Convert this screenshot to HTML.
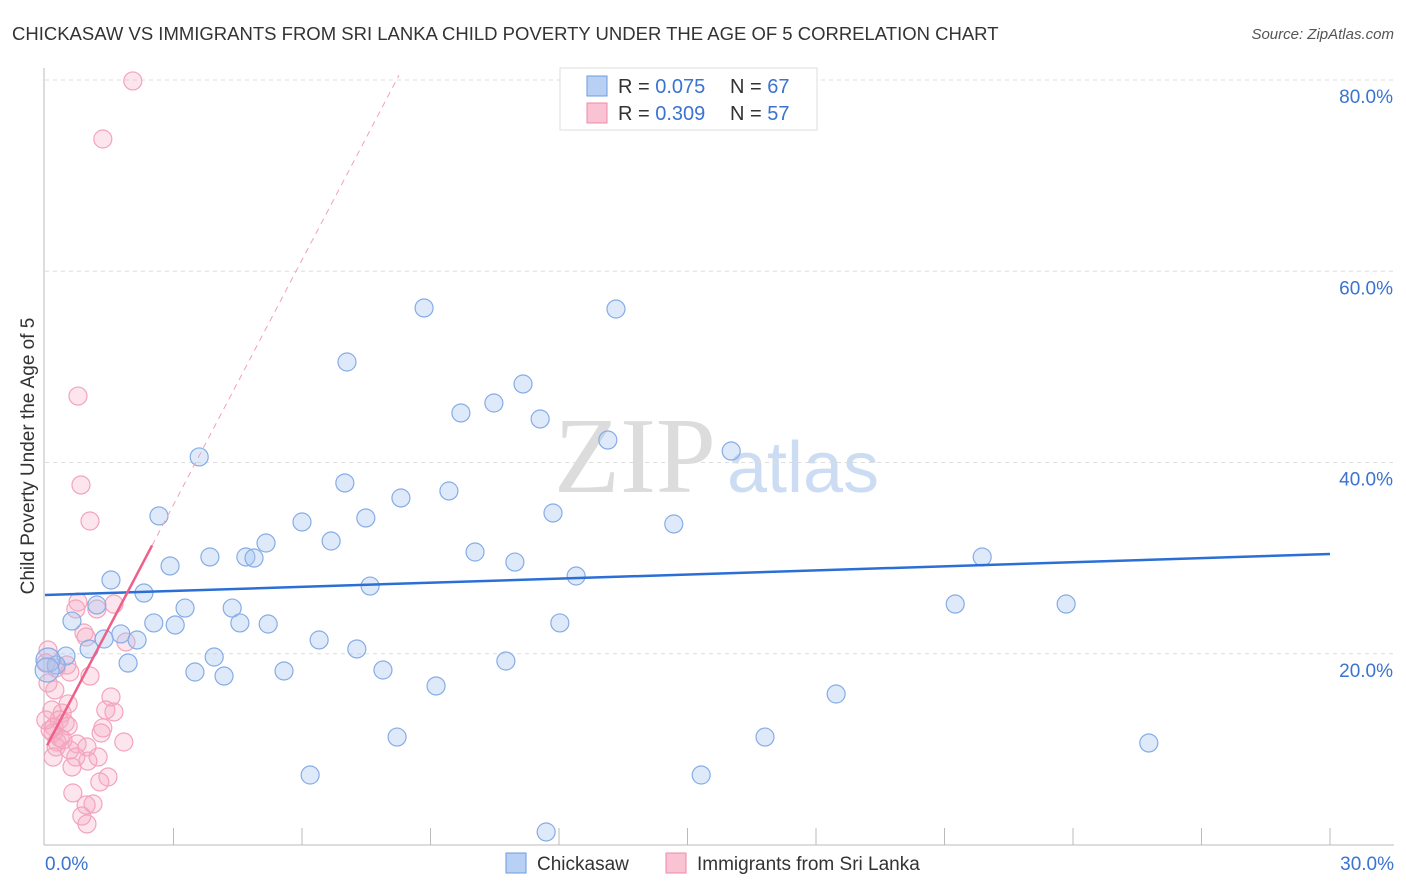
<!DOCTYPE html>
<html><head><meta charset="utf-8"><style>
body{margin:0;background:#fff;font-family:"Liberation Sans",sans-serif;}
svg{display:block}
</style></head><body>
<svg id="chart" width="1406" height="892" xmlns="http://www.w3.org/2000/svg">
<text x="12" y="40" font-size="18.5" fill="#333">CHICKASAW VS IMMIGRANTS FROM SRI LANKA CHILD POVERTY UNDER THE AGE OF 5 CORRELATION CHART</text>
<text x="1394" y="39" font-size="15" fill="#555" font-style="italic" text-anchor="end">Source: ZipAtlas.com</text>
<text x="635" y="492" font-size="108" fill="#dcdcdc" font-family="Liberation Serif,serif" text-anchor="middle">ZIP</text>
<text x="803" y="492" font-size="72" fill="#ccddf3" text-anchor="middle">atlas</text>
<text transform="translate(34,456) rotate(-90)" font-size="19" fill="#333" text-anchor="middle">Child Poverty Under the Age of 5</text>
<g id="grid"></g><g id="marks"></g>
<g>
<rect x="560" y="68" width="257" height="62" fill="#fff" stroke="#ddd"/>
<rect x="587" y="76" width="20" height="20" fill="#b7d0f3" stroke="#6a9be0"/>
<rect x="587" y="103" width="20" height="20" fill="#f9c3d3" stroke="#f08aa8"/>
<text x="618" y="93" font-size="20" fill="#333">R = <tspan fill="#3a73d0">0.075</tspan></text>
<text x="730" y="93" font-size="20" fill="#333">N = <tspan fill="#3a73d0">67</tspan></text>
<text x="618" y="120" font-size="20" fill="#333">R = <tspan fill="#3a73d0">0.309</tspan></text>
<text x="730" y="120" font-size="20" fill="#333">N = <tspan fill="#3a73d0">57</tspan></text>
</g>
<g>
<rect x="506" y="853" width="20" height="20" fill="#b7d0f3" stroke="#6a9be0"/>
<text x="537" y="870" font-size="19" fill="#333">Chickasaw</text>
<rect x="666" y="853" width="20" height="20" fill="#f9c3d3" stroke="#f08aa8"/>
<text x="697" y="870" font-size="19" fill="#333">Immigrants from Sri Lanka</text>
</g>
</svg>
<script>
const yTicks=[20,40,60,80];
const xTickLabels=["0.0%","30.0%"];
const blueX=[8.85,13.33,7.05,11.16,9.71,10.48,11.56,13.14,16.02,3.60,7.00,9.43,8.31,2.66,6.00,7.49,11.86,14.68,6.68,5.16,3.85,4.69,4.88,10.04,10.97,21.88,2.92,1.54,7.59,12.40,2.31,1.21,3.27,4.37,21.25,23.84,0.63,2.54,3.04,4.55,5.21,12.02,1.77,2.15,1.38,6.40,7.28,1.03,0.49,3.95,0.26,1.94,10.76,3.50,4.18,5.58,7.89,9.13,18.47,8.22,16.81,25.77,6.19,15.32,11.70,0.07,0.05];
const blueY=[56.16,56.05,50.51,48.21,45.18,46.22,44.55,42.35,41.20,40.58,37.86,37.02,36.29,34.41,33.78,34.20,34.72,33.57,31.79,31.58,30.12,30.12,30.01,30.64,29.59,30.12,29.18,27.71,27.08,28.13,26.35,25.10,24.78,24.78,25.20,25.20,23.42,23.22,23.01,23.22,23.11,23.22,22.07,21.44,21.54,21.44,20.50,20.50,19.76,19.66,18.82,19.03,19.24,18.09,17.67,18.20,18.30,16.63,15.79,11.29,11.29,10.67,7.32,7.32,1.36,19.35,18.3];
const pinkX=[2.05,1.35,0.77,0.84,1.05,0.77,1.61,0.72,1.21,0.91,0.96,1.89,0.07,0.51,0.26,0.58,1.05,0.07,0.23,1.54,0.54,0.16,0.40,1.42,1.61,0.33,0.47,0.21,0.54,1.35,1.31,0.19,0.28,1.84,0.75,0.98,0.26,0.58,1.24,0.72,0.19,1.00,0.63,1.47,1.28,0.65,1.12,0.96,0.86,0.98,0.02,0.12,0.35,0.02,0.42];
const pinkY=[79.90,73.83,46.95,37.65,33.88,25.41,25.20,24.68,24.68,22.17,21.75,21.23,20.39,18.82,18.51,18.09,17.67,16.94,16.21,15.48,14.75,14.12,13.80,14.12,13.91,13.07,12.76,12.34,12.44,12.24,11.71,11.71,10.77,10.77,10.56,10.25,10.25,9.93,9.20,9.20,9.20,8.78,8.16,7.11,6.59,5.44,4.29,4.18,3.03,2.20,19.03,12.03,11.19,13.07,10.98];
const blueTrend=[26.14,30.43];
const pinkTrend=[10.0,8.53];
const NS="http://www.w3.org/2000/svg";
const sx=v=>45+v/30*1285, sy=v=>845-v/20*191.25;
const grid=document.getElementById('grid'), marks=document.getElementById('marks');
function mk(tag,attrs,parent){const e=document.createElementNS(NS,tag);for(const k in attrs)e.setAttribute(k,attrs[k]);parent.appendChild(e);return e;}
let ax=mk('line',{x1:44,y1:68,x2:44,y2:845,stroke:'#bbb'},grid);


let bx=mk('line',{x1:44,y1:845,x2:1394,y2:845,stroke:'#bbb'},grid);


yTicks.forEach(t=>{
 const g=mk('line',{x1:45,x2:1394,y1:sy(t),y2:sy(t),stroke:'#ddd','stroke-dasharray':'4,4'},grid);
 
 
 const l=mk('text',{x:1393,y:sy(t)+23,'font-size':19,fill:'#3a73d0','text-anchor':'end'},grid);
 l.textContent=t.toFixed(1)+'%';
 
 
});
for(let i=1;i<=10;i++){const x=sx(i*3);
 const tk=mk('line',{x1:x,x2:x,y1:828,y2:845,stroke:'#bbb'},grid);
 
 }
const xl0=mk('text',{x:45,y:870,'font-size':19,fill:'#3a73d0'},grid);xl0.textContent=xTickLabels[0];


const xl1=mk('text',{x:1394,y:870,'font-size':19,fill:'#3a73d0','text-anchor':'end'},grid);xl1.textContent=xTickLabels[1];


pinkX.forEach((x,i)=>{const c=mk('circle',{cx:sx(x),cy:sy(pinkY[i]),r:9,fill:'rgba(246,170,195,0.3)',stroke:'#f4a3bc','stroke-width':1.2},marks);
 
 });
blueX.forEach((x,i)=>{const c=mk('circle',{cx:sx(x),cy:sy(blueY[i]),r:(i>=65?12:9),fill:'rgba(160,195,240,0.35)',stroke:'#86ace6','stroke-width':1.2},marks);
 
 });
const bt=mk('line',{x1:sx(0),y1:sy(blueTrend[0]),x2:sx(30),y2:sy(blueTrend[1]),stroke:'#2b6fd6','stroke-width':2.5},marks);


const pf=x=>pinkTrend[0]+pinkTrend[1]*x;
const ps=mk('line',{x1:sx(0.05),y1:sy(pf(0.05)),x2:sx(2.5),y2:sy(pf(2.5)),stroke:'#ee5f8a','stroke-width':2.5},marks);


const xe=(80.5-pinkTrend[0])/pinkTrend[1];
const pd=mk('line',{x1:sx(2.5),y1:sy(pf(2.5)),x2:sx(xe),y2:sy(80.5),stroke:'#f2a0b8','stroke-width':1,'stroke-dasharray':'6,5'},marks);


</script>
</body></html>
